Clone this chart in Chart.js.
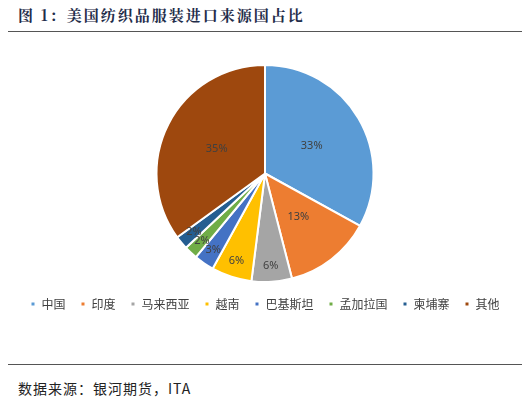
<!DOCTYPE html>
<html><head><meta charset="utf-8">
<script src="https://cdn.jsdelivr.net/npm/chart.js@4"></script>
<style>
body{margin:0;width:530px;height:407px;background:#fff;font-family:"Noto Sans CJK SC",sans-serif;position:relative}
#title{position:absolute;left:18px;top:4px;font-size:15px;font-weight:bold;letter-spacing:2px;color:#1f2d4a;font-family:"Noto Serif CJK SC","Noto Sans CJK SC",serif}
.rule{position:absolute;left:8px;width:514px;border-top:1px solid #555}
#src{position:absolute;left:18px;top:378px;font-size:14px;letter-spacing:1px;color:#222}
#box{position:absolute;left:8px;top:36px;width:514px;height:294px}
</style></head><body>
<div id="title">图 1：美国纺织品服装进口来源国占比</div>
<div class="rule" style="top:31px"></div>
<div class="rule" style="top:364px"></div>
<div id="src">数据来源：银河期货，ITA</div>
<div id="box"><canvas id="c"></canvas></div>
<script>
// Data
const countries = ['中国','印度','马来西亚','越南','巴基斯坦','孟加拉国','柬埔寨','其他'];
const shares = [33, 13, 6, 6, 3, 2, 2, 35];
const colors = ['#5b9bd5','#ed7d31','#a5a5a5','#ffc000','#4472c4','#70ad47','#255e91','#9e480e'];

// Labels inside slices
const pctLabels = {
    id: 'pctLabels',
    afterDatasetsDraw(chart) {
        const c = chart.ctx;
        c.save();
        c.font = '11px "Noto Sans", sans-serif';
        c.fillStyle = '#404040';
        c.textAlign = 'center';
        c.textBaseline = 'middle';
        chart.getDatasetMeta(0).data.forEach((arc, i) => {
            const f = shares[i] > 10 ? 0.5 : 0.85;
            const a = (arc.startAngle + arc.endAngle) / 2;
            const r = arc.outerRadius * f;
            c.fillText(shares[i] + '%', arc.x + Math.cos(a) * r, arc.y + Math.sin(a) * r);
        });
        c.restore();
    }
};

new Chart(document.getElementById('c'), {
    type: 'pie',
    data: { labels: countries, datasets: [{ data: shares, backgroundColor: colors, borderColor: '#fff', borderWidth: 2 }] },
    options: {
        responsive: true, maintainAspectRatio: false, animation: false,
        layout: { padding: { top: 28, bottom: 10 } },
        plugins: {
            legend: { position: 'bottom', labels: { boxWidth: 5, boxHeight: 5, padding: 15, color: '#404040', font: { size: 12, family: '"Noto Sans CJK SC"' } } },
            tooltip: { enabled: false }
        }
    },
    plugins: [pctLabels]
});
</script>
</body></html>
